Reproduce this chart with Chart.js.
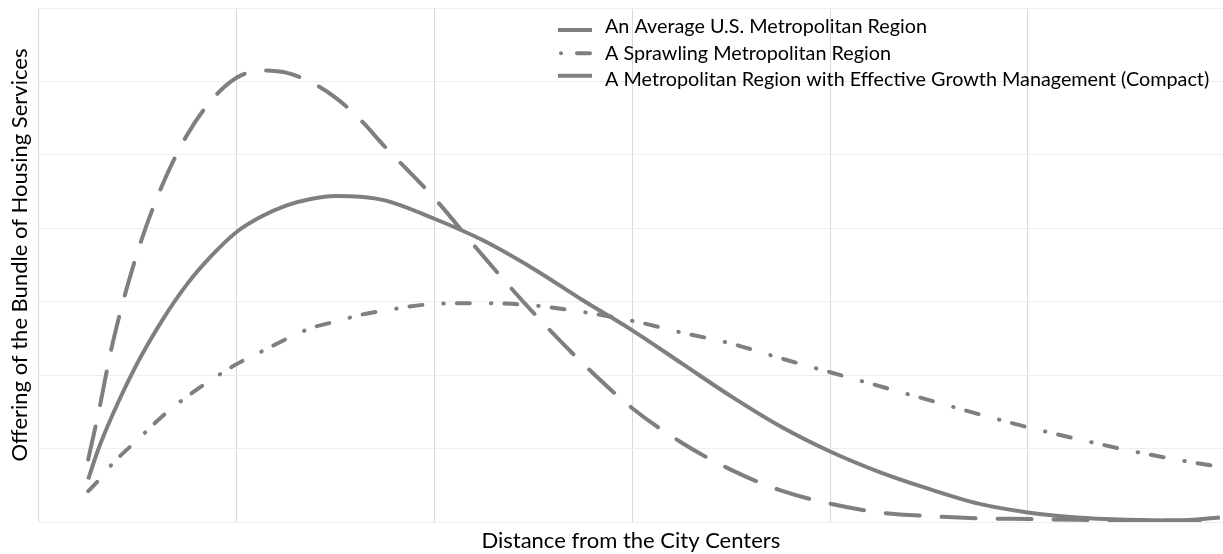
<!DOCTYPE html>
<html>
<head>
<meta charset="utf-8">
<script src="https://cdn.jsdelivr.net/npm/chart.js@4.4.1/dist/chart.umd.min.js"></script>
<style>
  body { margin: 0; background: #fff; }
  #wrap { width: 1223px; height: 554px; }
</style>
</head>
<body>
<div id="wrap"><canvas id="housing" width="1223" height="554"></canvas></div>
<script>
// distance from the centre (x) — shared by all three curves
const distance = [0.25, 0.3, 0.375, 0.5, 0.625, 0.75, 0.875, 1, 1.125, 1.25, 1.375, 1.5, 1.625, 1.75,
  2, 2.25, 2.5, 2.75, 3, 3.25, 3.5, 3.75, 4, 4.25, 4.5, 4.75, 5, 5.25, 5.5, 5.75, 5.97];

const averageRegion = [0.58, 0.98, 1.47, 2.17, 2.75, 3.24, 3.63, 3.95, 4.16, 4.31, 4.40, 4.44, 4.43, 4.38,
  4.13, 3.83, 3.45, 3.02, 2.61, 2.16, 1.71, 1.30, 0.96, 0.68, 0.45, 0.25, 0.13, 0.06, 0.03, 0.02, 0.06];

const sprawlingRegion = [0.42, 0.56, 0.80, 1.12, 1.44, 1.71, 1.94, 2.15, 2.32, 2.49, 2.64, 2.73, 2.82, 2.88,
  2.97, 2.98, 2.95, 2.86, 2.74, 2.58, 2.43, 2.23, 2.04, 1.85, 1.66, 1.47, 1.29, 1.13, 0.98, 0.85, 0.75];

const compactRegion = [0.85, 1.46, 2.45, 3.68, 4.59, 5.27, 5.75, 6.05, 6.15, 6.12, 5.99, 5.78, 5.48, 5.11,
  4.41, 3.61, 2.85, 2.16, 1.55, 1.08, 0.71, 0.43, 0.25, 0.13, 0.08, 0.05, 0.04, 0.03, 0.02, 0.02, 0.02];

const seriesNames = [
  'An Average U.S. Metropolitan Region',
  'A Sprawling Metropolitan Region',
  'A Metropolitan Region with Effective Growth Management (Compact)'
];

const yTitle = 'Offering of the Bundle of Housing Services';
const xTitle = 'Distance from the City Centers';

// gridline positions (no labels are shown)
const xTicks = [0, 1, 2, 3, 4, 5];
const yTicks = [0, 1, 2, 3, 4, 5, 6, 7];

const grey = '#7f7f7f';
const font = 'Lato';

function pts(ys) {
  return distance.map((x, i) => ({ x: x, y: ys[i] }));
}

// legend + y title drawn by hand so they sit where the original has them
const sketchLegend = {
  id: 'sketchLegend',
  afterDraw(chart) {
    const ctx = chart.ctx;
    ctx.save();
    ctx.strokeStyle = grey;
    ctx.fillStyle = grey;
    ctx.lineWidth = 4;
    ctx.lineCap = 'butt';
    ctx.beginPath(); ctx.moveTo(558, 30); ctx.lineTo(592, 30); ctx.stroke();

    ctx.lineCap = 'round';
    ctx.beginPath(); ctx.arc(561, 53.3, 2, 0, Math.PI * 2); ctx.fill();
    ctx.beginPath(); ctx.moveTo(577, 53.3); ctx.lineTo(590, 53.3); ctx.stroke();

    ctx.lineCap = 'butt';
    ctx.beginPath(); ctx.moveTo(558, 75.7); ctx.lineTo(592, 75.7); ctx.stroke();

    ctx.fillStyle = '#000';
    ctx.font = '19.8px ' + font;
    ctx.textBaseline = 'alphabetic';
    ctx.textAlign = 'left';
    const base = [33, 59.5, 86];
    seriesNames.forEach((t, i) => ctx.fillText(t, 605, base[i]));

    ctx.font = '22px ' + font;
    ctx.textAlign = 'center';
    ctx.textBaseline = 'middle';
    ctx.translate(20, 255);
    ctx.rotate(-Math.PI / 2);
    ctx.fillText(yTitle, 0, 0);
    ctx.restore();
  }
};

const ctx = document.getElementById('housing').getContext('2d');
new Chart(ctx, {
  type: 'line',
  data: {
    datasets: [
      { label: seriesNames[0], data: pts(averageRegion), borderColor: grey, borderWidth: 4 },
      { label: seriesNames[1], data: pts(sprawlingRegion), borderColor: grey, borderWidth: 4,
        borderDash: [13, 21, 0.5, 13], borderCapStyle: 'round' },
      { label: seriesNames[2], data: pts(compactRegion), borderColor: grey, borderWidth: 4,
        borderDash: [34, 22], borderCapStyle: 'round' }
    ]
  },
  options: {
    responsive: false,
    animation: false,
    devicePixelRatio: 1,
    layout: { padding: { left: 38.7, top: 8, right: 0, bottom: 0 } },
    elements: {
      point: { radius: 0 },
      line: { cubicInterpolationMode: 'monotone', fill: false }
    },
    plugins: {
      legend: { display: false },
      tooltip: { enabled: false }
    },
    scales: {
      x: {
        type: 'linear',
        min: 0,
        max: 5.9856,
        afterBuildTicks: s => { s.ticks = xTicks.map(v => ({ value: v })); },
        ticks: { display: false },
        grid: { color: '#d9d9d9', lineWidth: 1, drawTicks: false },
        border: { display: false },
        title: {
          display: true,
          text: xTitle,
          color: '#000',
          font: { family: font, size: 22 },
          padding: { top: 5.6, bottom: 0 }
        }
      },
      y: {
        type: 'linear',
        min: 0,
        max: 7,
        afterBuildTicks: s => { s.ticks = yTicks.map(v => ({ value: v })); },
        ticks: { display: false },
        grid: { color: '#eeeeee', lineWidth: 1, drawTicks: false },
        border: { display: false },
        title: { display: false }
      }
    }
  },
  plugins: [sketchLegend]
});
</script>
</body>
</html>
